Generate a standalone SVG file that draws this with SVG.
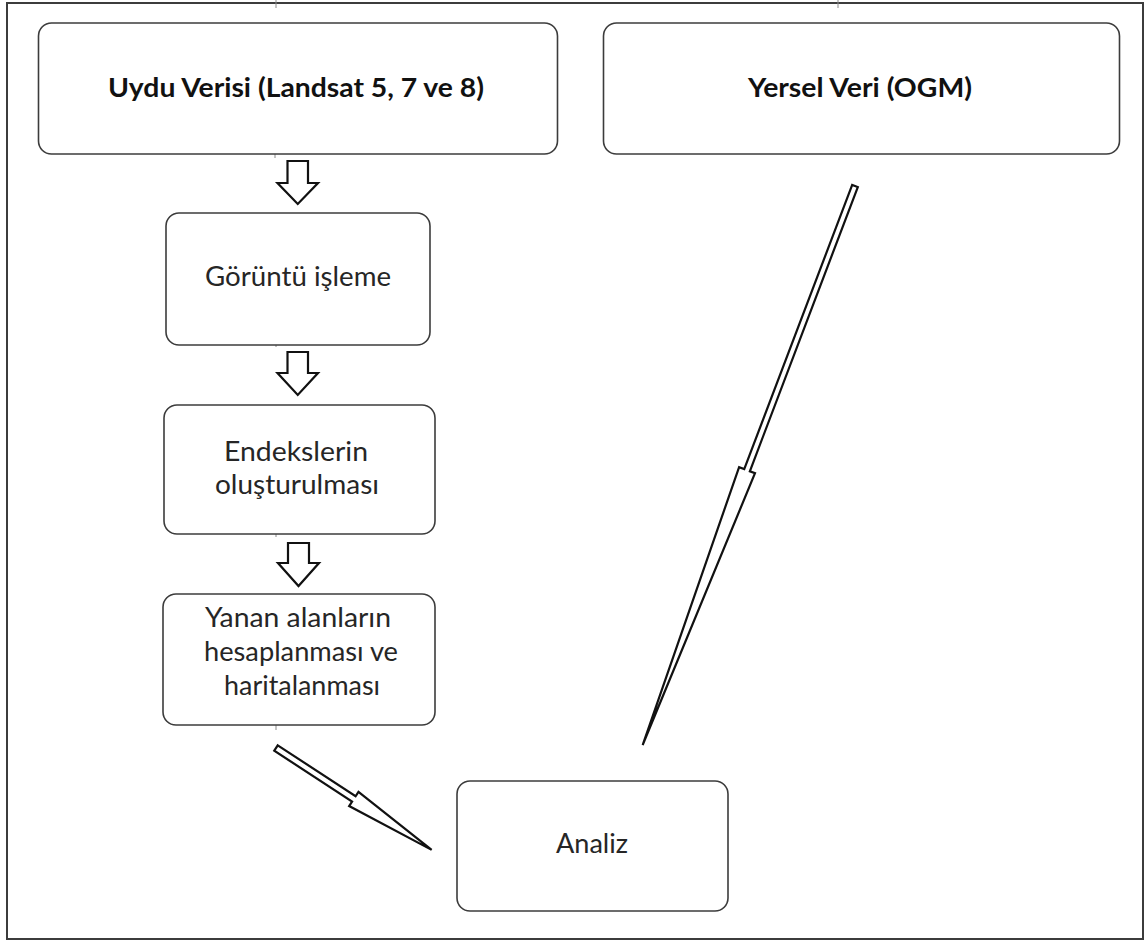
<svg xmlns="http://www.w3.org/2000/svg" width="1146" height="942" viewBox="0 0 1146 942">
  <style>
    .box { fill: #ffffff; stroke: #3c3c3c; stroke-width: 1.6; }
    .lbl { font-family: Lato, "Liberation Sans", sans-serif; font-size: 27px; fill: #262626; text-anchor: middle; }
    .bold { font-weight: bold; fill: #111111; font-size: 26px; }
    .barrow { fill: #ffffff; stroke: #111111; stroke-width: 2.2; stroke-linejoin: miter; }
    .darrow { fill: #ffffff; stroke: #111111; stroke-width: 2.2; stroke-linejoin: miter; }
    .tick { stroke: #8a8a8a; stroke-width: 1; }
  </style>
  <rect x="0" y="0" width="1146" height="942" fill="#ffffff"/>
  <rect id="frame" x="7" y="3" width="1136" height="936" fill="none" stroke="#3c3c3c" stroke-width="2"/>
  <g id="ticks">
    <line class="tick" x1="276" y1="0" x2="276" y2="8"/>
    <line class="tick" x1="838" y1="0" x2="838" y2="8"/>
    <line class="tick" x1="275" y1="152" x2="275" y2="158"/>
    <line class="tick" x1="276" y1="335" x2="276" y2="347"/>
    <line class="tick" x1="276" y1="530" x2="276" y2="537"/>
    <line class="tick" x1="276" y1="722" x2="276" y2="730"/>
  </g>

  <g id="node-uydu">
    <rect class="box" x="38.5" y="23" width="519" height="131" rx="13"/>
    <text class="lbl bold" x="296" y="97" textLength="376" lengthAdjust="spacingAndGlyphs">Uydu Verisi (Landsat 5, 7 ve 8)</text>
  </g>
  <g id="node-yersel">
    <rect class="box" x="603.5" y="23" width="516" height="131" rx="13"/>
    <text class="lbl bold" x="860" y="97" textLength="224" lengthAdjust="spacingAndGlyphs">Yersel Veri (OGM)</text>
  </g>
  <g id="node-goruntu">
    <rect class="box" x="166" y="213" width="264" height="132" rx="13"/>
    <text class="lbl" x="298" y="286" textLength="186" lengthAdjust="spacingAndGlyphs">Görüntü işleme</text>
  </g>
  <g id="node-endeks">
    <rect class="box" x="164" y="405" width="271" height="129" rx="13"/>
    <text class="lbl" x="296" y="461" textLength="144" lengthAdjust="spacingAndGlyphs">Endekslerin</text>
    <text class="lbl" x="297" y="494" textLength="164" lengthAdjust="spacingAndGlyphs">oluşturulması</text>
  </g>
  <g id="node-yanan">
    <rect class="box" x="163" y="594" width="272" height="131" rx="13"/>
    <text class="lbl" x="298" y="627" textLength="186" lengthAdjust="spacingAndGlyphs">Yanan alanların</text>
    <text class="lbl" x="301" y="661" textLength="194" lengthAdjust="spacingAndGlyphs">hesaplanması ve</text>
    <text class="lbl" x="302" y="695" textLength="156" lengthAdjust="spacingAndGlyphs">haritalanması</text>
  </g>
  <g id="node-analiz">
    <rect class="box" x="457" y="781" width="271" height="130" rx="13"/>
    <text class="lbl" x="592" y="853" textLength="72" lengthAdjust="spacingAndGlyphs">Analiz</text>
  </g>

  <g id="connectors">
    <polygon class="barrow" points="287.5,161 308,161 308,183 318,183 297.75,204 277.5,183 287.5,183"/>
    <polygon class="barrow" points="287.5,352 308,352 308,373 318,373 297.75,395 277.5,373 287.5,373"/>
    <polygon class="barrow" points="288,543 309,543 309,563 319,563 298.5,586 278,563 288,563"/>
    <polygon class="darrow" transform="translate(276,748) rotate(33.2)" points="0,-3.2 93,-3.2 93,-8.5 186,0 93,8.5 93,3.2 0,3.2"/>
    <polygon class="darrow" transform="translate(855,186) rotate(110.8)" points="0,-3 304,-3 304,-8.5 598,0 304,8.5 304,3 0,3"/>
  </g>
</svg>
